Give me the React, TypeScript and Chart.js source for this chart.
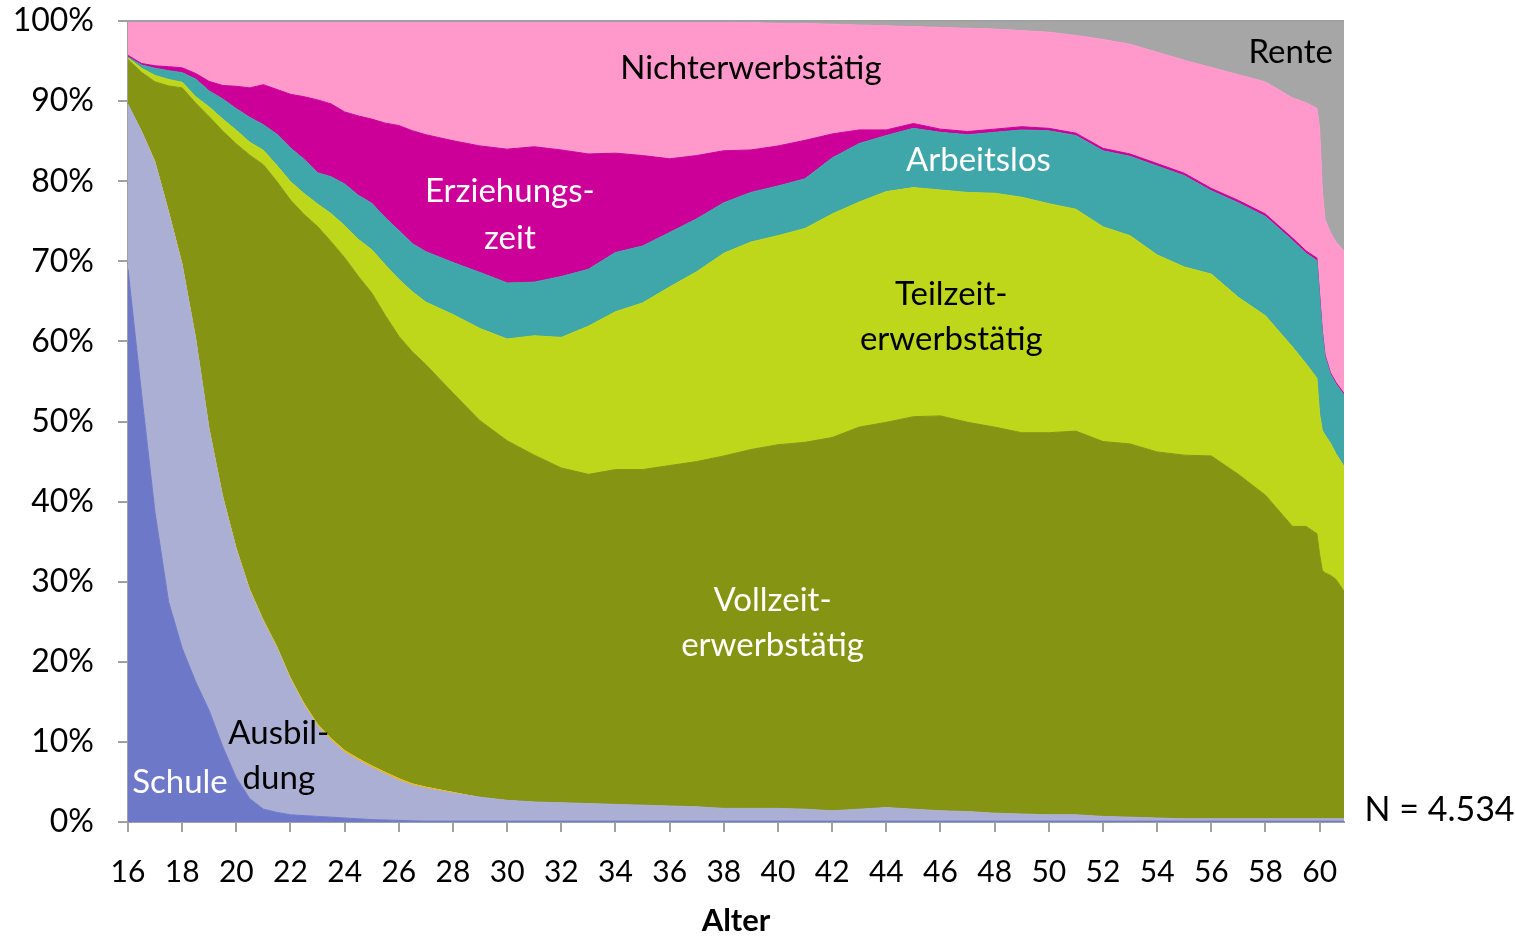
import React, { useEffect, useRef } from 'react';
import { Chart, registerables } from 'chart.js';

Chart.register(...registerables);

// Age (years) of each sample point
const ages = [16, 16.5, 17, 17.5, 18, 18.5, 19, 19.5, 20, 20.5, 21, 21.5, 22, 22.5, 23, 23.5, 24, 24.5, 25, 25.5, 26, 26.5, 27,
  28, 29, 30, 31, 32, 33, 34, 35, 36, 37, 38, 39, 40, 41, 42, 43, 44, 45, 46, 47, 48, 49, 50, 51, 52, 53, 54, 55, 56, 57, 58, 59,
  59.5, 59.9, 60, 60.1, 60.2, 60.4, 60.6, 60.9];

// Shares in % per status
const schule = [69.0, 53.5, 38.6, 27.5, 21.7, 17.5, 13.9, 9.4, 5.5, 2.9, 1.6, 1.2, 0.9, 0.8, 0.7, 0.6, 0.5, 0.4, 0.3, 0.25, 0.2, 0.15, 0.1,
  0.1, 0.1, 0.1, 0.1, 0.1, 0.1, 0.1, 0.1, 0.1, 0.1, 0.1, 0.1, 0.1, 0.1, 0.1, 0.1, 0.1, 0.1, 0.1, 0.1, 0.1, 0.1, 0.1, 0.1, 0.1, 0.1, 0.1, 0.1, 0.1, 0.1, 0.1, 0.1,
  0.1, 0.1, 0.1, 0.1, 0.1, 0.1, 0.1, 0.1];
const ausbildung = [20.6, 32.7, 43.7, 48.6, 47.8, 42.8, 35.0, 31.1, 28.5, 25.9, 23.4, 20.5, 16.9, 13.8, 11.3, 9.6, 8.2, 7.3, 6.5, 5.75, 5.0, 4.45, 4.1,
  3.5, 3.0, 2.6, 2.4, 2.3, 2.2, 2.1, 2.0, 1.9, 1.8, 1.6, 1.6, 1.6, 1.5, 1.3, 1.5, 1.7, 1.5, 1.3, 1.2, 1.0, 0.9, 0.8, 0.8, 0.6, 0.5, 0.4, 0.3, 0.3, 0.3, 0.3, 0.3,
  0.3, 0.3, 0.3, 0.3, 0.3, 0.3, 0.3, 0.3];
const sonstige = [0, 0.1, 0.2, 0.2, 0.25, 0.25, 0.25, 0.25, 0.25, 0.25, 0.25, 0.25, 0.25, 0.25, 0.25, 0.25, 0.25, 0.25, 0.25, 0.25, 0.25, 0.2, 0.2,
  0.15, 0, 0, 0, 0, 0, 0, 0, 0, 0, 0, 0, 0, 0, 0, 0, 0, 0, 0, 0, 0, 0, 0, 0, 0, 0, 0, 0, 0, 0, 0, 0,
  0, 0, 0, 0, 0, 0, 0, 0];
const vollzeit = [5.6, 7.3, 9.9, 15.6, 21.9, 29.2, 38.9, 45.5, 50.4, 54.2, 56.8, 58.0, 59.6, 61.0, 62.1, 62.0, 61.5, 60.2, 59.0, 57.0, 55.2, 53.9, 52.7,
  49.8, 47.0, 44.9, 43.3, 41.8, 41.1, 41.8, 41.9, 42.5, 43.1, 44.0, 44.8, 45.4, 45.8, 46.6, 47.7, 48.1, 49.0, 49.3, 48.6, 48.2, 47.6, 47.7, 47.9, 46.8, 46.6, 45.7, 45.4, 45.3, 43.0, 40.4, 36.5,
  36.5, 35.6, 33.0, 31.0, 30.7, 30.4, 29.9, 28.4];
const teilzeit = [0.2, 0.5, 0.8, 0.8, 0.7, 0.8, 1.2, 1.5, 1.7, 1.6, 1.8, 2.0, 2.3, 2.6, 2.8, 3.5, 4.0, 4.6, 5.4, 6.3, 7.1, 7.5, 7.8,
  9.8, 11.5, 12.7, 14.9, 16.3, 18.5, 19.7, 20.8, 22.3, 23.7, 25.3, 25.9, 26.1, 26.7, 27.9, 28.1, 28.8, 28.6, 28.2, 28.7, 29.2, 29.4, 28.6, 27.7, 26.8, 26.0, 24.6, 23.5, 22.7, 22.1, 22.4, 22.4,
  20.3, 19.4, 17.5, 17.5, 17.2, 16.5, 15.7, 15.6];
const arbeitslos = [0.1, 0.4, 0.9, 1.1, 1.2, 2.2, 2.0, 2.5, 2.7, 3.1, 3.2, 3.9, 4.2, 4.3, 3.9, 4.6, 5.2, 5.5, 5.8, 5.9, 6.1, 6.0, 6.3,
  6.5, 7.0, 7.0, 6.7, 7.6, 7.1, 7.4, 7.1, 6.8, 6.6, 6.3, 6.2, 6.2, 6.2, 7.0, 7.3, 7.0, 7.4, 7.2, 7.2, 7.6, 8.4, 9.1, 9.2, 9.5, 9.9, 11.1, 11.4, 10.4, 11.8, 12.4, 13.3,
  13.8, 14.7, 14.6, 12.2, 9.8, 8.6, 8.7, 8.9];
const erziehung = [0.2, 0.2, 0.3, 0.5, 0.6, 0.7, 1.2, 1.7, 2.8, 3.7, 5.0, 5.6, 6.7, 7.8, 9.1, 9.1, 9.0, 9.9, 10.5, 11.8, 13.1, 14.1, 14.6,
  15.2, 15.8, 16.7, 16.9, 15.8, 14.4, 12.4, 11.3, 9.2, 7.9, 6.5, 5.3, 5.0, 4.8, 3.0, 1.7, 0.7, 0.6, 0.4, 0.4, 0.4, 0.4, 0.3, 0.3, 0.3, 0.3, 0.3, 0.3, 0.3, 0.3, 0.3, 0.3,
  0.3, 0.3, 0.3, 0.2, 0.2, 0.2, 0.2, 0.2];
const nichterwerb = [4.3, 5.3, 5.6, 5.7, 5.9, 6.5, 7.6, 8.0, 8.2, 8.3, 8.0, 8.6, 9.1, 9.5, 9.8, 10.4, 11.4, 11.8, 12.3, 12.7, 13.1, 13.7, 14.2,
  15.0, 15.6, 16.0, 15.7, 16.1, 16.6, 16.5, 16.8, 17.2, 16.8, 16.1, 15.9, 15.3, 14.6, 13.7, 13.1, 13.0, 12.1, 12.7, 12.9, 12.5, 12.0, 12.0, 12.2, 13.6, 13.7, 13.9, 14.1, 15.1, 15.7, 16.5, 17.5,
  18.5, 18.7, 20.8, 17.5, 16.9, 17.5, 17.5, 17.8];
const rente = [0, 0, 0, 0, 0, 0, 0, 0, 0, 0, 0, 0, 0, 0, 0, 0, 0, 0, 0, 0, 0, 0, 0,
  0, 0, 0, 0, 0, 0, 0, 0, 0, 0, 0.1, 0.2, 0.3, 0.3, 0.4, 0.5, 0.6, 0.7, 0.8, 0.9, 1.0, 1.2, 1.4, 1.8, 2.3, 2.9, 3.9, 4.9, 5.8, 6.7, 7.6, 9.6,
  10.2, 10.9, 13.4, 21.2, 24.8, 26.4, 27.6, 28.7];

const seriesNames = ['Schule', 'Ausbildung', 'Sonstige', 'Vollzeiterwerbstätig', 'Teilzeiterwerbstätig', 'Arbeitslos', 'Erziehungszeit', 'Nichterwerbstätig', 'Rente'];
const seriesValues = [schule, ausbildung, sonstige, vollzeit, teilzeit, arbeitslos, erziehung, nichterwerb, rente];
const seriesColors = ['#6e78c8', '#abafd3', '#f2b600', '#869413', '#bed71b', '#3fa6a9', '#cc0099', '#ff99cc', '#a6a6a6'];

const xTicks = [16, 18, 20, 22, 24, 26, 28, 30, 32, 34, 36, 38, 40, 42, 44, 46, 48, 50, 52, 54, 56, 58, 60];
const yTicks = [0, 10, 20, 30, 40, 50, 60, 70, 80, 90, 100];

// Area labels, placed in data coordinates (age, %)
const areaLabels = [
  { text: 'Nichterwerbstätig', age: 39.0, pct: 94.1, color: '#000' },
  { text: 'Rente', age: 58.93, pct: 96.1, color: '#000' },
  { text: 'Erziehungs-', age: 30.1, pct: 78.7, color: '#fff' },
  { text: 'zeit', age: 30.1, pct: 72.9, color: '#fff' },
  { text: 'Arbeitslos', age: 47.4, pct: 82.6, color: '#fff' },
  { text: 'Teilzeit-', age: 46.4, pct: 65.9, color: '#000' },
  { text: 'erwerbstätig', age: 46.4, pct: 60.2, color: '#000' },
  { text: 'Vollzeit-', age: 39.8, pct: 27.7, color: '#fff' },
  { text: 'erwerbstätig', age: 39.8, pct: 22.1, color: '#fff' },
  { text: 'Ausbil-', age: 21.57, pct: 11.1, color: '#000' },
  { text: 'dung', age: 21.57, pct: 5.5, color: '#000' },
  { text: 'Schule', age: 17.92, pct: 4.9, color: '#fff' },
];
const noteText = 'N = 4.534';
const notePos = { age: 61.66, pct: 1.5 };

const FONT = 'Lato, "Open Sans", sans-serif';
const AXIS = '#a0a0a0';

const labelPlugin = {
  id: 'areaLabels',
  afterDatasetsDraw(chart: any) {
    const { ctx, chartArea, scales } = chart;
    const xs = scales.x;
    const ys = scales.y;
    ctx.save();
    ctx.strokeStyle = AXIS;
    ctx.lineWidth = 2;
    ctx.beginPath();
    ctx.moveTo(chartArea.left - 10, chartArea.top);
    ctx.lineTo(chartArea.right, chartArea.top);
    ctx.stroke();
    ctx.font = `33px ${FONT}`;
    ctx.textAlign = 'center';
    ctx.textBaseline = 'middle';
    for (const l of areaLabels) {
      ctx.fillStyle = l.color;
      ctx.fillText(l.text, xs.getPixelForValue(l.age), ys.getPixelForValue(l.pct));
    }
    ctx.textAlign = 'left';
    ctx.fillStyle = '#000';
    ctx.font = `34px ${FONT}`;
    ctx.fillText(noteText, xs.getPixelForValue(notePos.age), ys.getPixelForValue(notePos.pct));
    ctx.restore();
  },
};

export default function App() {
  const ref = useRef<HTMLCanvasElement | null>(null);
  useEffect(() => {
    if (!ref.current) return;
    const datasets = seriesValues.map((vals, i) => ({
      label: seriesNames[i],
      data: ages.map((a, j) => ({ x: a, y: vals[j] })),
      backgroundColor: seriesColors[i],
      borderColor: seriesColors[i],
      borderWidth: i === 2 ? 0 : 1,
      fill: i === 0 ? 'origin' : '-1',
      pointRadius: 0,
      tension: 0,
    }));
    const chart = new Chart(ref.current, {
      type: 'line',
      data: { datasets },
      plugins: [labelPlugin],
      options: {
        animation: false,
        responsive: true,
        maintainAspectRatio: false,
        events: [],
        layout: { padding: { left: 0, top: 21, right: 171, bottom: 0 } },
        plugins: { legend: { display: false }, tooltip: { enabled: false } },
        scales: {
          x: {
            type: 'linear',
            min: 16,
            max: 60.9,
            z: 1,
            afterBuildTicks: (axis: any) => { axis.ticks = xTicks.map((v) => ({ value: v })); },
            afterFit: (s: any) => { s.height = 118; s.paddingLeft = 0; s.paddingRight = 0; },
            ticks: { color: '#000', font: { family: FONT, size: 30 }, padding: 22, maxRotation: 0, autoSkip: false, callback: (v: any) => String(v) },
            grid: { drawOnChartArea: false, drawTicks: true, tickLength: 10, color: AXIS, lineWidth: 2 },
            border: { display: true, color: AXIS, width: 2 },
            title: { display: true, text: 'Alter', color: '#000', font: { family: FONT, size: 31, weight: 'bold' }, padding: { top: 0, bottom: 0 } },
          },
          y: {
            stacked: true,
            min: 0,
            max: 100,
            z: 1,
            afterBuildTicks: (axis: any) => { axis.ticks = yTicks.map((v) => ({ value: v })); },
            afterFit: (s: any) => { s.width = 128; s.paddingTop = 0; s.paddingBottom = 0; },
            ticks: { color: '#000', font: { family: FONT, size: 32 }, padding: 24, callback: (v: any) => v + '%' },
            grid: { drawOnChartArea: false, drawTicks: true, tickLength: 10, color: AXIS, lineWidth: 2 },
            border: { display: true, color: AXIS, width: 2 },
          },
        },
      },
    } as any);
    return () => chart.destroy();
  }, []);
  return (
    <div style={{ position: 'fixed', left: 0, top: 0, width: 1515, height: 940, background: '#fff' }}>
      <canvas ref={ref} />
    </div>
  );
}
